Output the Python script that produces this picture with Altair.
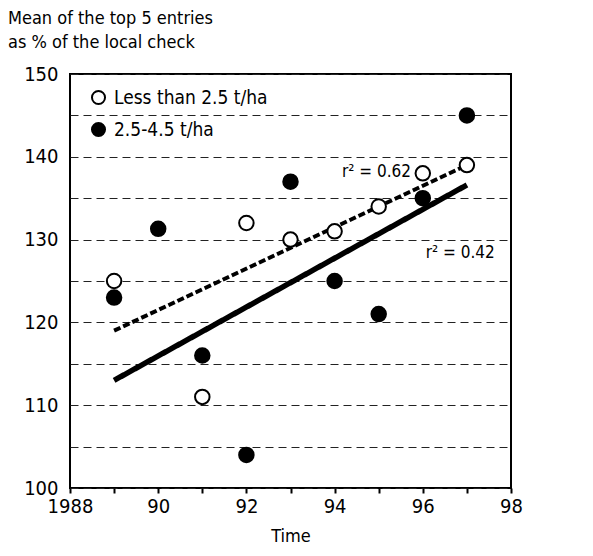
import altair as alt
import pandas as pd

FONT = "DejaVu Sans Condensed, Roboto, sans-serif"

series_names = ["Less than 2.5 t/ha", "2.5-4.5 t/ha"]

low_years = [1989, 1991, 1992, 1993, 1994, 1995, 1996, 1997]
low_values = [125, 111, 132, 130, 131, 134, 138, 139]

mid_years = [1989, 1990, 1991, 1992, 1993, 1994, 1995, 1996, 1997]
mid_values = [123, 131.3, 116, 104, 137, 125, 121, 135, 145]

trend_names = ["fit low", "fit mid"]
trend_years = [1989, 1997]
trend_low = [119, 139]
trend_mid = [113, 136.6]

r2_labels = ["r² = 0.62", "r² = 0.42"]
r2_x = [1994.95, 1996.85]
r2_y = [138.2, 128.4]

y_ticks = [100, 105, 110, 115, 120, 125, 130, 135, 140, 145, 150]
x_ticks = list(range(1988, 1999))

pts = pd.DataFrame(
    {"year": low_years + mid_years,
     "value": low_values + mid_values,
     "series": [series_names[0]] * len(low_years) + [series_names[1]] * len(mid_years)}
)
trend = pd.DataFrame(
    {"year": trend_years * 2,
     "value": trend_low + trend_mid,
     "fit": [trend_names[0]] * 2 + [trend_names[1]] * 2}
)
ann = pd.DataFrame({"text": r2_labels, "year": r2_x, "value": r2_y})

xscale = alt.Scale(domain=[1988, 1998], nice=False, zero=False)
yscale = alt.Scale(domain=[100, 150], nice=False, zero=False)

x_axis = alt.Axis(
    values=x_ticks, title="Time", grid=False,
    labelExpr="datum.value % 2 != 0 ? '' : (datum.value == 1988 ? '1988' : format(datum.value % 100, '02d'))",
    labelFlush=False, labelOverlap=False,
    tickSize=5, tickColor="black", tickWidth=2, domain=False,
    labelFont=FONT, labelFontSize=20, labelColor="black", labelPadding=3,
    titleFont=FONT, titleFontSize=18, titleFontWeight="normal", titleColor="black", titlePadding=11,
)
y_axis = alt.Axis(
    values=y_ticks, title=None, grid=True, gridDash=[8, 5], gridColor="#222222", gridWidth=1,
    labelExpr="datum.value % 10 == 0 ? datum.value : ''",
    labelOverlap=False, labelFlush=False,
    ticks=False, domain=False,
    labelFont=FONT, labelFontSize=20, labelColor="black", labelPadding=12,
)

lines = alt.Chart(trend).mark_line(color="black").encode(
    x=alt.X("year:Q", scale=xscale, axis=x_axis),
    y=alt.Y("value:Q", scale=yscale, axis=y_axis),
    strokeDash=alt.StrokeDash("fit:N", scale=alt.Scale(domain=trend_names, range=[[7, 3], [1, 0]]), legend=None),
    strokeWidth=alt.StrokeWidth("fit:N", scale=alt.Scale(domain=trend_names, range=[4, 5.5]), legend=None),
)

points = alt.Chart(pts).mark_point(shape="circle", filled=True, size=210, stroke="black", strokeWidth=2, opacity=1).encode(
    x=alt.X("year:Q", scale=xscale),
    y=alt.Y("value:Q", scale=yscale),
    fill=alt.Fill(
        "series:N",
        scale=alt.Scale(domain=series_names, range=["white", "black"]),
        legend=alt.Legend(
            title=None, orient="none", legendX=19, legendY=14,
            symbolType="circle", symbolSize=170, symbolStrokeColor="black", symbolStrokeWidth=2,
            labelFont=FONT, labelFontSize=19, labelColor="black", rowPadding=9, labelOffset=6,
            symbolOpacity=1, padding=0,
        ),
    ),
)

texts = alt.Chart(ann).mark_text(align="center", baseline="middle", font=FONT, fontSize=17, color="black").encode(
    x=alt.X("year:Q", scale=xscale),
    y=alt.Y("value:Q", scale=yscale),
    text="text:N",
)

chart = alt.layer(lines, points, texts).properties(
    width=441, height=414,
    title=alt.TitleParams(
        text=["Mean of the top 5 entries", "as % of the local check"],
        anchor="start", frame="group", dx=-62, offset=12,
        font=FONT, fontSize=18, fontWeight="normal", color="black", lineHeight=24,
    ),
    autosize=alt.AutoSizeParams(type="none"),
    padding={"left": 62, "top": 66, "right": 74, "bottom": 60},
).configure(background="white").configure_view(stroke="black", strokeWidth=2)

chart.save("out.html", embed_options={"renderer": "svg", "actions": False})
